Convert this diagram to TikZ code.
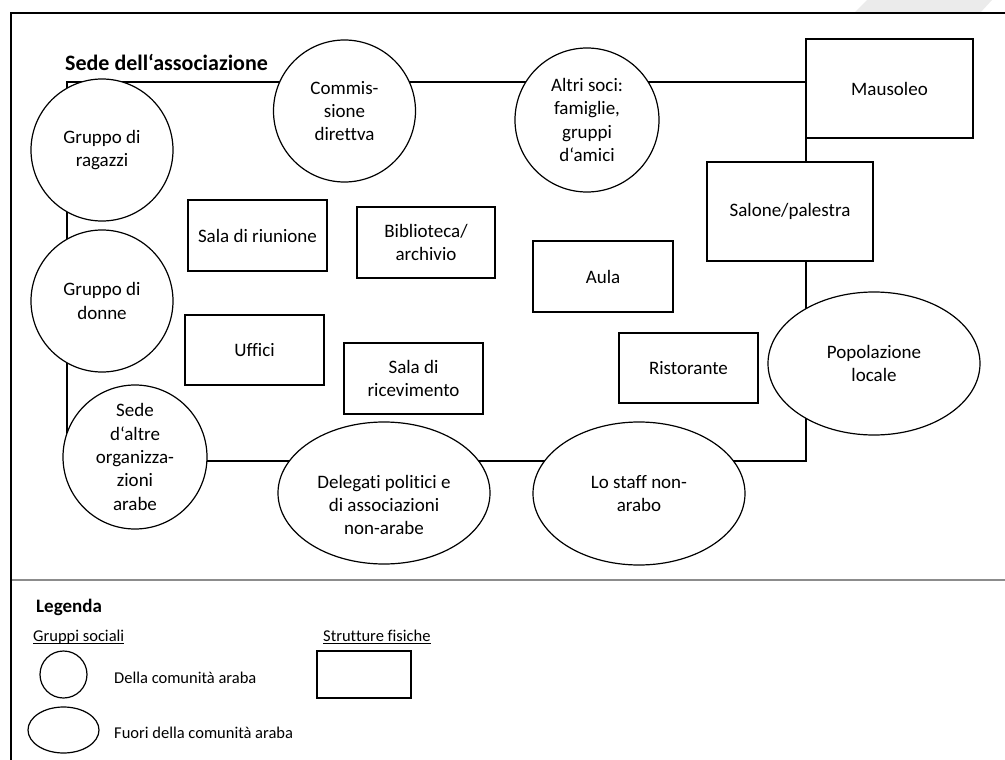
\documentclass[tikz,border=0pt]{standalone}
\usepackage{fontspec}
\setmainfont{Carlito}[Ligatures={NoCommon}]
\usetikzlibrary{shapes.geometric}
\begin{document}
\begin{tikzpicture}[x=1pt,y=-1pt,
  every node/.style={font=\fontsize{19}{23.3}\selectfont, align=center, inner sep=0pt, text=black},
  grp/.style={circle, draw, line width=1.2pt, fill=white, minimum size=142pt},
  outgrp/.style={ellipse, draw, line width=1.2pt, fill=white, minimum width=212pt, minimum height=142pt},
  room/.style={rectangle, draw, line width=1.2pt, fill=white},
  wall/.style={line width=1.2pt},
  frameline/.style={line width=2pt},
  legtext/.style={font=\fontsize{16.5}{20}\selectfont, anchor=base west},
  legshape/.style={draw, line width=1.2pt},
]
\useasboundingbox (0,0) rectangle (1005,760);
% watermark shape
\fill[black!8] (867,0) -- (992,0) -- (980,13) -- (854,13) -- cycle;
% outer frame and divider
\coordinate (fBL) at (11,760);
\coordinate (fTL) at (11,13);
\coordinate (fTR) at (1005,13);
\draw[frameline] (fBL) -- (fTL) -- (fTR);
\coordinate (dL) at (12,580);
\coordinate (dR) at (1005,580);
\draw[line width=2pt, black!45] (dL) -- (dR);

% building outline
\coordinate (wNW) at (67,82);
\coordinate (wNE) at (806,82);
\coordinate (wSE) at (806,461);
\coordinate (wSW) at (67,461);
\draw[wall] (wNW) -- (wNE) -- (wSE) -- (wSW) -- cycle;

\node[font=\fontsize{22}{26}\selectfont\bfseries, anchor=base west] (title) at (65,71) {Sede dell‘associazione};

% rooms
\node[room, minimum width=167pt, minimum height=99pt] (maus) at (889.5,88.5) {Mausoleo};
\node[room, minimum width=166pt, minimum height=99pt] (salone) at (790,211.5) {Salone/palestra};
\node[room, minimum width=140pt, minimum height=71pt] (aula) at (603,276.5) {Aula};
\node[room, minimum width=139pt, minimum height=71pt] (riun) at (257.5,235.5) {Sala di riunione};
\node[room, minimum width=138pt, minimum height=71pt] (bibl) at (426,242.5) {Biblioteca/\\archivio};
\node[room, minimum width=139pt, minimum height=70pt] (uff) at (254.5,350) {Uffici};
\node[room, minimum width=139pt, minimum height=71pt] (ricev) at (413.5,378.5) {Sala di\\ricevimento};
\node[room, minimum width=139pt, minimum height=70pt] (rist) at (688.5,368) {Ristorante};

% social groups (arab community)
\node[grp] (ragazzi) at (102,150) {Gruppo di\\ragazzi};
\node[grp] (donne) at (102,301) {Gruppo di\\donne};
\node[grp] (comm) at (344.5,111) {Commis-\\sione\\direttva};
\node[grp, minimum size=144pt] (soci) at (587,120) {Altri soci:\\famiglie,\\gruppi\\d‘amici};
\node[grp, minimum size=144pt] (altre) at (135,457) {Sede\\d‘altre\\organizza-\\zioni\\arabe};

% social groups (outside)
\node[outgrp] (deleg) at (384,493) {};
\node at ([yshift=-12pt]deleg.center) {Delegati politici e\\di associazioni\\non-arabe};
\node[outgrp, minimum height=143pt] (staff) at (639,493.5) {Lo staff non-\\arabo};
\node[outgrp, minimum height=143pt] (popol) at (874,363.5) {Popolazione\\locale};

% legend
\node[font=\fontsize{19}{23}\selectfont\bfseries, anchor=base west] (leg) at (36,612) {Legenda};
\node[legtext] (gs) at (33,641) {Gruppi sociali};
\draw[line width=0.8pt] ([yshift=-2.5pt]gs.base west) -- ([yshift=-2.5pt]gs.base east);
\node[legtext] (sf) at (323,641) {Strutture fisiche};
\draw[line width=0.8pt] ([yshift=-2.5pt]sf.base west) -- ([yshift=-2.5pt]sf.base east);
\node[legshape, circle, minimum size=47pt] (lcirc) at (63.5,674.5) {};
\node[legtext] (lcirct) at (114,683) {Della comunità araba};
\node[legshape, ellipse, minimum width=71pt, minimum height=46pt] (lell) at (63.5,730) {};
\node[legtext] (lellt) at (114,738) {Fuori della comunità araba};
\node[legshape, rectangle, minimum width=94pt, minimum height=47pt] (lrect) at (364,674.5) {};
\end{tikzpicture}
\end{document}
